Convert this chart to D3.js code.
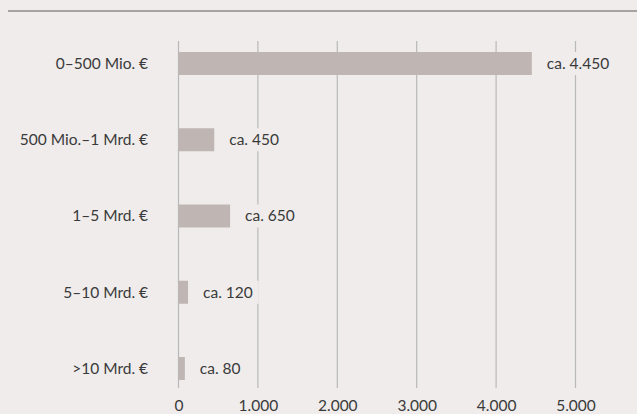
<!DOCTYPE html>
<html><head><meta charset="utf-8">
<script src="https://cdn.jsdelivr.net/npm/d3@7"></script>
<style>
html,body{margin:0;padding:0;background:#efeceb;}
svg{display:block;}
text{font-family:Lato,"Open Sans",sans-serif;fill:#3a3a3a;}
</style></head><body>
<svg id="c" width="637" height="414"></svg>
<script>
const categories = ["0–500 Mio.\u202F€","500 Mio.–1 Mrd.\u202F€","1–5 Mrd.\u202F€","5–10 Mrd.\u202F€",">10 Mrd.\u202F€"];
const values = [4450, 450, 650, 120, 80];
const valueLabels = ["ca. 4.450","ca. 450","ca. 650","ca. 120","ca. 80"];
const ticks = [0,1000,2000,3000,4000,5000];

const W=637,H=414,bg="#efeceb";
const svg=d3.select("#c");
svg.append("rect").attr("width",W).attr("height",H).attr("fill",bg);
svg.append("line").attr("x1",8).attr("x2",W).attr("y1",11).attr("y2",11)
  .attr("stroke","#8f8986").attr("stroke-width",1.5);

const x=d3.scaleLinear().domain([0,5000]).range([178.5,575.5]);
const y=d3.scalePoint().domain(categories).range([63.5,368.5]);
const bh=23;
const fmt=d3.formatLocale({decimal:",",thousands:".",grouping:[3],currency:["","€"]}).format(",");

// gridlines
svg.append("g").selectAll("line").data(ticks).join("line")
  .attr("x1",d=>x(d)).attr("x2",d=>x(d)).attr("y1",41).attr("y2",388)
  .attr("stroke","#b9b9b9").attr("stroke-width",1.2);

// axis labels
const ax=svg.append("g").attr("transform","translate(0,399.5)")
  .call(d3.axisBottom(x).tickValues(ticks).tickFormat(fmt).tickSize(0).tickPadding(0));
ax.select(".domain").remove();
ax.selectAll("text").attr("font-size",15.5).attr("dy","0.71em").style("font-family","Lato").attr("fill","#3a3a3a");

// bars
svg.append("g").selectAll("rect").data(values).join("rect")
  .attr("x",x(0)).attr("y",(d,i)=>y(categories[i])-bh/2)
  .attr("width",d=>x(d)-x(0)).attr("height",bh).attr("fill","#bfb6b3");

// value labels with background
const lg=svg.append("g").selectAll("g").data(values).join("g")
  .attr("transform",(d,i)=>`translate(${x(d)+15},${y(categories[i])})`);
lg.append("text").text((d,i)=>valueLabels[i]).attr("font-size",15.5).attr("dy","0.35em");
lg.each(function(){
  const t=d3.select(this).select("text").node();
  const w=t.getComputedTextLength();
  d3.select(this).insert("rect","text").attr("x",-6).attr("y",-bh/2).attr("width",w+12).attr("height",bh).attr("fill",bg);
});

// category labels
svg.append("g").selectAll("text").data(categories).join("text")
  .attr("x",148).attr("y",d=>y(d)).attr("dy","0.35em").attr("text-anchor","end")
  .attr("font-size",15.5).text(d=>d);
</script>
</body></html>
